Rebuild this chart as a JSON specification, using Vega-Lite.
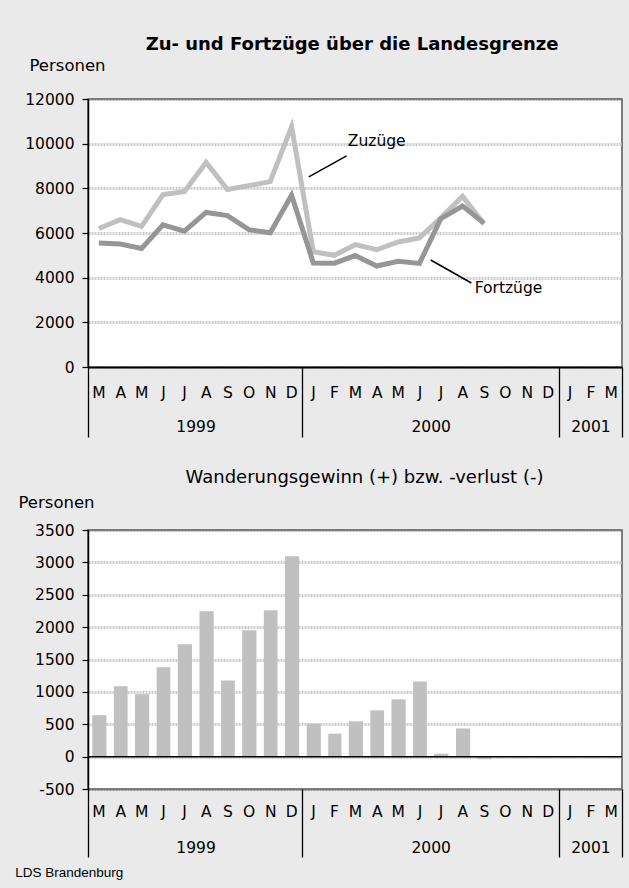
{
  "$schema": "https://vega.github.io/schema/vega-lite/v6.json",
  "background": "#eaeaea",
  "padding": {"left": 15, "top": 35, "right": 6, "bottom": 10},
  "autosize": {"type": "pad"},
  "datasets": {
    "wanderung": [
      {"Monat": "1999-03", "Zuzüge": 6200, "Fortzüge": 5550, "Saldo": 640},
      {"Monat": "1999-04", "Zuzüge": 6600, "Fortzüge": 5510, "Saldo": 1085},
      {"Monat": "1999-05", "Zuzüge": 6300, "Fortzüge": 5310, "Saldo": 965},
      {"Monat": "1999-06", "Zuzüge": 7720, "Fortzüge": 6370, "Saldo": 1380},
      {"Monat": "1999-07", "Zuzüge": 7850, "Fortzüge": 6080, "Saldo": 1735},
      {"Monat": "1999-08", "Zuzüge": 9160, "Fortzüge": 6920, "Saldo": 2245},
      {"Monat": "1999-09", "Zuzüge": 7950, "Fortzüge": 6780, "Saldo": 1175},
      {"Monat": "1999-10", "Zuzüge": 8120, "Fortzüge": 6150, "Saldo": 1950},
      {"Monat": "1999-11", "Zuzüge": 8300, "Fortzüge": 6010, "Saldo": 2260},
      {"Monat": "1999-12", "Zuzüge": 10760, "Fortzüge": 7690, "Saldo": 3095},
      {"Monat": "2000-01", "Zuzüge": 5160, "Fortzüge": 4660, "Saldo": 510},
      {"Monat": "2000-02", "Zuzüge": 5000, "Fortzüge": 4650, "Saldo": 355},
      {"Monat": "2000-03", "Zuzüge": 5480, "Fortzüge": 4990, "Saldo": 545},
      {"Monat": "2000-04", "Zuzüge": 5250, "Fortzüge": 4520, "Saldo": 715},
      {"Monat": "2000-05", "Zuzüge": 5600, "Fortzüge": 4730, "Saldo": 885},
      {"Monat": "2000-06", "Zuzüge": 5780, "Fortzüge": 4640, "Saldo": 1160},
      {"Monat": "2000-07", "Zuzüge": 6680, "Fortzüge": 6640, "Saldo": 45},
      {"Monat": "2000-08", "Zuzüge": 7640, "Fortzüge": 7210, "Saldo": 435},
      {"Monat": "2000-09", "Zuzüge": 6400, "Fortzüge": 6440, "Saldo": -40}
    ],
    "notes": [
      {"label": "Zuzüge", "x": "2000-04-16", "y": 10100},
      {"label": "Fortzüge", "x": "2000-10-21", "y": 3540}
    ],
    "leader": [
      {"x": "2000-01-10", "y": 8510, "x2": "2000-03-04", "y2": 9450},
      {"x": "2000-07-02", "y": 4790, "x2": "2000-08-29", "y2": 3760}
    ]
  },
  "title": {"text": "LDS Brandenburg", "orient": "bottom", "anchor": "start", "font": "Liberation Sans", "fontSize": 13.5, "fontWeight": "normal", "color": "black", "offset": 8, "dx": -2},
  "config": {
    "view": {"stroke": "#555555", "strokeWidth": 1.5, "fill": "white"},
    "font": "DejaVu Sans",
    "axis": {"labelFont": "DejaVu Sans", "labelFontSize": 15.5, "labelColor": "black", "titleFont": "DejaVu Sans", "titleFontSize": 16.5, "titleFontWeight": "normal", "titleColor": "black"}
  },
  "spacing": 29,
  "vconcat": [
    {
      "width": 534,
      "height": 268,
      "title": {"text": "Zu- und Fortzüge über die Landesgrenze", "font": "DejaVu Sans", "fontSize": 18, "fontWeight": "bold", "color": "black", "anchor": "middle", "frame": "group", "dx": -3, "offset": 3},
      "resolve": {"axis": {"x": "independent", "y": "independent"}},
      "layer": [
        {
          "data": {"name": "wanderung"},
          "transform": [{"fold": ["Zuzüge", "Fortzüge"], "as": ["Art", "Personen"]}],
          "mark": {"type": "line", "strokeWidth": 5},
          "encoding": {
            "x": {"field": "Monat", "type": "temporal", "timeUnit": "utcyearmonth", "bandPosition": 0.5,
              "scale": {"type": "utc", "nice": false, "domain": [{"year": 1999, "month": 3, "date": 1, "utc": true}, {"year": 2001, "month": 4, "date": 1, "utc": true}]},
              "axis": {"orient": "bottom", "title": null, "grid": false, "ticks": false, "domain": true, "domainColor": "black", "domainWidth": 2, "labelPadding": 18, "labelAngle": 0, "labelOverlap": false, "labelFlush": false, "labelBound": false,
                "labelExpr": "['J','F','M','A','M','J','J','A','S','O','N','D'][utcmonth(datum.value)]",
                "values": [
                  {"year": 1999, "month": 3, "date": 16, "utc": true}, {"year": 1999, "month": 4, "date": 16, "utc": true}, {"year": 1999, "month": 5, "date": 16, "utc": true}, {"year": 1999, "month": 6, "date": 16, "utc": true}, {"year": 1999, "month": 7, "date": 16, "utc": true}, {"year": 1999, "month": 8, "date": 16, "utc": true}, {"year": 1999, "month": 9, "date": 16, "utc": true}, {"year": 1999, "month": 10, "date": 16, "utc": true}, {"year": 1999, "month": 11, "date": 16, "utc": true}, {"year": 1999, "month": 12, "date": 16, "utc": true},
                  {"year": 2000, "month": 1, "date": 16, "utc": true}, {"year": 2000, "month": 2, "date": 15, "utc": true}, {"year": 2000, "month": 3, "date": 16, "utc": true}, {"year": 2000, "month": 4, "date": 16, "utc": true}, {"year": 2000, "month": 5, "date": 16, "utc": true}, {"year": 2000, "month": 6, "date": 16, "utc": true}, {"year": 2000, "month": 7, "date": 16, "utc": true}, {"year": 2000, "month": 8, "date": 16, "utc": true}, {"year": 2000, "month": 9, "date": 16, "utc": true}, {"year": 2000, "month": 10, "date": 16, "utc": true}, {"year": 2000, "month": 11, "date": 16, "utc": true}, {"year": 2000, "month": 12, "date": 16, "utc": true},
                  {"year": 2001, "month": 1, "date": 16, "utc": true}, {"year": 2001, "month": 2, "date": 15, "utc": true}, {"year": 2001, "month": 3, "date": 16, "utc": true}
                ]}},
            "y": {"field": "Personen", "type": "quantitative", "scale": {"domain": [0, 12000], "nice": false},
              "axis": {"values": [0, 2000, 4000, 6000, 8000, 10000, 12000], "format": "d", "grid": true,
                "gridColor": {"condition": {"test": "datum.value == 12000", "value": "#7a7a7a"}, "value": "#cdcdcd"},
                "gridWidth": {"condition": {"test": "datum.value == 12000", "value": 2}, "value": 3},
                "gridDash": [2, 1],
                "domain": true, "domainColor": "black", "domainWidth": 1.5, "ticks": true, "tickSize": 6, "tickColor": "black", "tickWidth": 1.2, "labelPadding": 8,
                "title": "Personen", "titleAngle": 0, "titleAlign": "left", "titleBaseline": "middle", "titleX": -59, "titleY": -34}},
            "color": {"field": "Art", "type": "nominal", "scale": {"domain": ["Zuzüge", "Fortzüge"], "range": ["#c0c0c0", "#969696"]}, "legend": null}
          }
        },
        {
          "data": {"name": "leader"},
          "mark": {"type": "rule", "color": "black", "strokeWidth": 1.5},
          "encoding": {
            "x": {"field": "x", "type": "temporal", "axis": null},
            "x2": {"field": "x2"},
            "y": {"field": "y", "type": "quantitative", "axis": null},
            "y2": {"field": "y2"}
          }
        },
        {
          "data": {"name": "notes"},
          "mark": {"type": "text", "font": "DejaVu Sans", "fontSize": 15.5, "color": "black"},
          "encoding": {
            "x": {"field": "x", "type": "temporal",
              "axis": {"orient": "bottom", "title": null, "grid": false, "domain": false, "ticks": true, "tickSize": 70, "tickWidth": 1.3,
                "tickColor": {"condition": {"test": "utcdate(datum.value) == 1 && utchours(datum.value) == 0", "value": "black"}, "value": "transparent"},
                "labelExpr": "utcdate(datum.value) == 1 && utchours(datum.value) == 0 ? '' : '' + utcyear(datum.value)",
                "labelPadding": -17.5, "labelAngle": 0, "labelOverlap": false, "labelFlush": false, "labelBound": false,
                "values": [{"year": 1999, "month": 3, "date": 1, "utc": true}, {"year": 1999, "month": 8, "date": 1, "hours": 12, "utc": true}, {"year": 2000, "month": 1, "date": 1, "utc": true}, {"year": 2000, "month": 7, "date": 2, "utc": true}, {"year": 2001, "month": 1, "date": 1, "utc": true}, {"year": 2001, "month": 2, "date": 15, "utc": true}, {"year": 2001, "month": 4, "date": 1, "utc": true}]}},
            "y": {"field": "y", "type": "quantitative", "axis": null},
            "text": {"field": "label"}
          }
        }
      ]
    },
    {
      "width": 534,
      "height": 259,
      "title": {"text": "Wanderungsgewinn (+) bzw. -verlust (-)", "font": "DejaVu Sans", "fontSize": 18, "fontWeight": "normal", "color": "black", "anchor": "middle", "frame": "group", "dx": 9.5, "offset": 7},
      "resolve": {"axis": {"x": "independent", "y": "independent"}},
      "layer": [
        {
          "data": {"name": "wanderung"},
          "mark": {"type": "bar", "color": "#c0c0c0", "width": {"band": 0.7}},
          "encoding": {
            "x": {"field": "Monat", "type": "temporal", "timeUnit": "utcyearmonth",
              "scale": {"type": "utc", "nice": false, "domain": [{"year": 1999, "month": 3, "date": 1, "utc": true}, {"year": 2001, "month": 4, "date": 1, "utc": true}]},
              "axis": {"orient": "bottom", "title": null, "grid": false, "ticks": false, "domain": true, "domainColor": "#7a7a7a", "domainWidth": 2, "domainDash": [2, 1], "labelPadding": 15, "labelAngle": 0, "labelOverlap": false, "labelFlush": false, "labelBound": false,
                "labelExpr": "['J','F','M','A','M','J','J','A','S','O','N','D'][utcmonth(datum.value)]",
                "values": [
                  {"year": 1999, "month": 3, "date": 16, "utc": true}, {"year": 1999, "month": 4, "date": 16, "utc": true}, {"year": 1999, "month": 5, "date": 16, "utc": true}, {"year": 1999, "month": 6, "date": 16, "utc": true}, {"year": 1999, "month": 7, "date": 16, "utc": true}, {"year": 1999, "month": 8, "date": 16, "utc": true}, {"year": 1999, "month": 9, "date": 16, "utc": true}, {"year": 1999, "month": 10, "date": 16, "utc": true}, {"year": 1999, "month": 11, "date": 16, "utc": true}, {"year": 1999, "month": 12, "date": 16, "utc": true},
                  {"year": 2000, "month": 1, "date": 16, "utc": true}, {"year": 2000, "month": 2, "date": 15, "utc": true}, {"year": 2000, "month": 3, "date": 16, "utc": true}, {"year": 2000, "month": 4, "date": 16, "utc": true}, {"year": 2000, "month": 5, "date": 16, "utc": true}, {"year": 2000, "month": 6, "date": 16, "utc": true}, {"year": 2000, "month": 7, "date": 16, "utc": true}, {"year": 2000, "month": 8, "date": 16, "utc": true}, {"year": 2000, "month": 9, "date": 16, "utc": true}, {"year": 2000, "month": 10, "date": 16, "utc": true}, {"year": 2000, "month": 11, "date": 16, "utc": true}, {"year": 2000, "month": 12, "date": 16, "utc": true},
                  {"year": 2001, "month": 1, "date": 16, "utc": true}, {"year": 2001, "month": 2, "date": 15, "utc": true}, {"year": 2001, "month": 3, "date": 16, "utc": true}
                ]}},
            "y": {"field": "Saldo", "type": "quantitative", "scale": {"domain": [-500, 3500], "nice": false},
              "axis": {"values": [-500, 0, 500, 1000, 1500, 2000, 2500, 3000, 3500], "labelExpr": "'' + datum.value", "grid": true,
                "gridColor": {"condition": {"test": "datum.value == 3500 || datum.value == -500", "value": "#7a7a7a"}, "value": "#cdcdcd"},
                "gridWidth": {"condition": {"test": "datum.value == 3500 || datum.value == -500", "value": 2}, "value": 3},
                "gridDash": [2, 1],
                "domain": true, "domainColor": "black", "domainWidth": 1.5, "ticks": true, "tickSize": 6, "tickColor": "black", "tickWidth": 1.2, "labelPadding": 8,
                "title": "Personen", "titleAngle": 0, "titleAlign": "left", "titleBaseline": "middle", "titleX": -70, "titleY": -28}}
          }
        },
        {
          "data": {"values": [{}]},
          "mark": {"type": "rule", "color": "black", "strokeWidth": 1.5},
          "encoding": {
            "x": {"datum": {"year": 1999, "month": 3, "date": 1, "utc": true}, "type": "temporal",
              "axis": {"orient": "bottom", "title": null, "grid": false, "domain": false, "ticks": true, "tickSize": 68, "tickWidth": 1.3,
                "tickColor": {"condition": {"test": "utcdate(datum.value) == 1 && utchours(datum.value) == 0", "value": "black"}, "value": "transparent"},
                "labelExpr": "utcdate(datum.value) == 1 && utchours(datum.value) == 0 ? '' : '' + utcyear(datum.value)",
                "labelPadding": -17, "labelAngle": 0, "labelOverlap": false, "labelFlush": false, "labelBound": false,
                "values": [{"year": 1999, "month": 3, "date": 1, "utc": true}, {"year": 1999, "month": 8, "date": 1, "hours": 12, "utc": true}, {"year": 2000, "month": 1, "date": 1, "utc": true}, {"year": 2000, "month": 7, "date": 2, "utc": true}, {"year": 2001, "month": 1, "date": 1, "utc": true}, {"year": 2001, "month": 2, "date": 15, "utc": true}, {"year": 2001, "month": 4, "date": 1, "utc": true}]}},
            "x2": {"datum": {"year": 2001, "month": 4, "date": 1, "utc": true}},
            "y": {"datum": 0, "type": "quantitative", "axis": null}
          }
        }
      ]
    }
  ]
}
